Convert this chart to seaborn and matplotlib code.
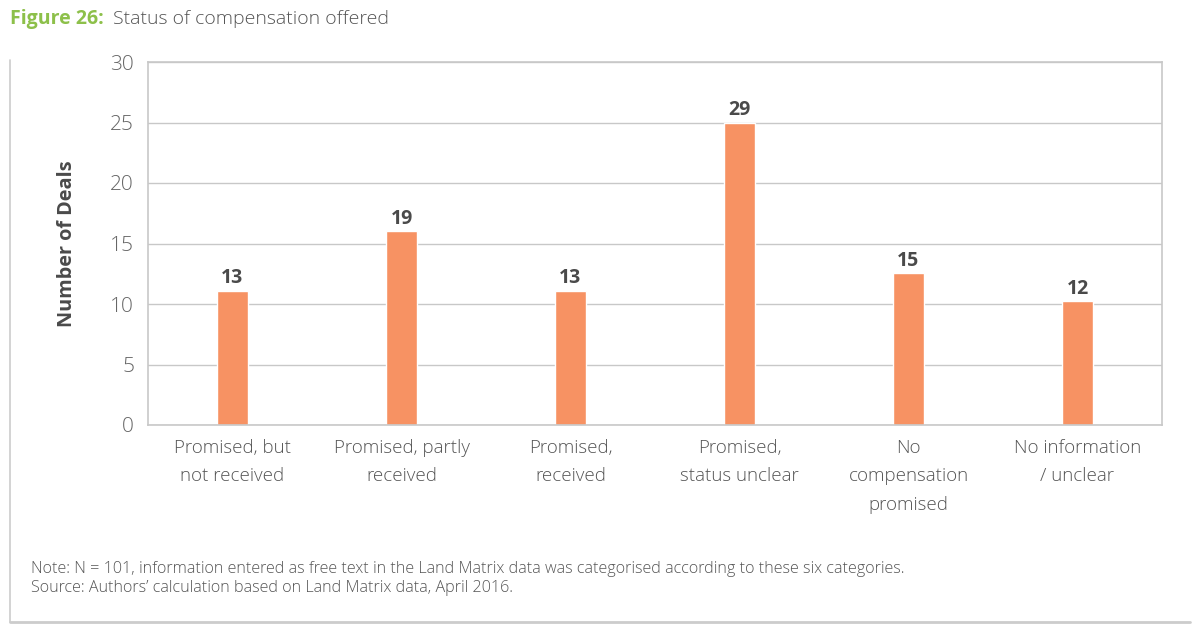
import matplotlib
matplotlib.use("Agg")
import seaborn as sns
import matplotlib.pyplot as plt
import pandas as pd

categories = ["Promised, but\nnot received", "Promised, partly\nreceived", "Promised,\nreceived",
              "Promised,\nstatus unclear", "No\ncompensation\npromised", "No information\n/ unclear"]
# bar heights as drawn in the figure, and the printed labels
bar_heights = [11.1, 16.0, 11.1, 25.0, 12.55, 10.25]
bar_labels = ["13", "19", "13", "29", "15", "12"]
yticks = [0, 5, 10, 15, 20, 25, 30]

df = pd.DataFrame({"category": categories, "value": bar_heights})

sns.set_style("white")
plt.rcParams['font.family'] = ['Open Sans', 'DejaVu Sans']

fig = plt.figure(figsize=(12, 6.33), dpi=100)
ax = fig.add_axes([148 / 1200, 1 - 425 / 633, (1162 - 148) / 1200, (425 - 62) / 633])

sns.barplot(data=df, x="category", y="value", color="#F79263", width=0.18,
            saturation=1, ax=ax)

for i, (h, lab) in enumerate(zip(bar_heights, bar_labels)):
    ax.text(i, h + 0.2, lab, ha="center", va="bottom", fontsize=14,
            fontweight="bold", color="#4a4a4a")

ax.set_ylim(0, 30)
ax.set_xlim(-0.5, 5.5)
ax.set_yticks(yticks)
ax.yaxis.grid(True, color="#c8c8c8", linewidth=1)
ax.set_axisbelow(True)
for s in ax.spines.values():
    s.set_color("#c8c8c8")
    s.set_linewidth(1.2)
ax.tick_params(axis="y", labelsize=15, labelcolor="#666666", length=0, pad=10)
ax.tick_params(axis="x", labelsize=13.5, labelcolor="#555555", length=0, pad=10)
for t in ax.get_yticklabels():
    t.set_fontweight("light")
for t in ax.get_xticklabels():
    t.set_linespacing(1.75)
    t.set_fontweight("light")
ax.set_xlabel("")
ax.set_ylabel("Number of Deals", fontsize=14.3, fontweight="bold", color="#4a4a4a", labelpad=24)

fig.text(10 / 1200, 1 - 19 / 633, "Figure 26:", fontsize=14, fontweight="bold",
         color="#8DC04A", va="center")
fig.text(113 / 1200, 1 - 19 / 633, "Status of compensation offered", fontsize=14,
         fontweight="light", color="#555555", va="center")

fig.text(31 / 1200, 1 - 569 / 633, "Note: N = 101, information entered as free text in the Land Matrix data was categorised according to these six categories.",
         fontsize=11.6, fontweight="light", color="#555555", va="center")
fig.text(31 / 1200, 1 - 588 / 633, "Source: Authors\u2019 calculation based on Land Matrix data, April 2016.",
         fontsize=11.6, fontweight="light", color="#555555", va="center")

# outer frame lines
fig.add_artist(plt.Line2D([10 / 1200, 10 / 1200], [1 - 60 / 633, 1 - 622 / 633],
                          color="#cccccc", linewidth=1.2, transform=fig.transFigure))
fig.add_artist(plt.Line2D([10 / 1200, 1190 / 1200], [1 - 622 / 633, 1 - 622 / 633],
                          color="#cccccc", linewidth=2, transform=fig.transFigure))

fig.savefig("out.png", dpi=100)
